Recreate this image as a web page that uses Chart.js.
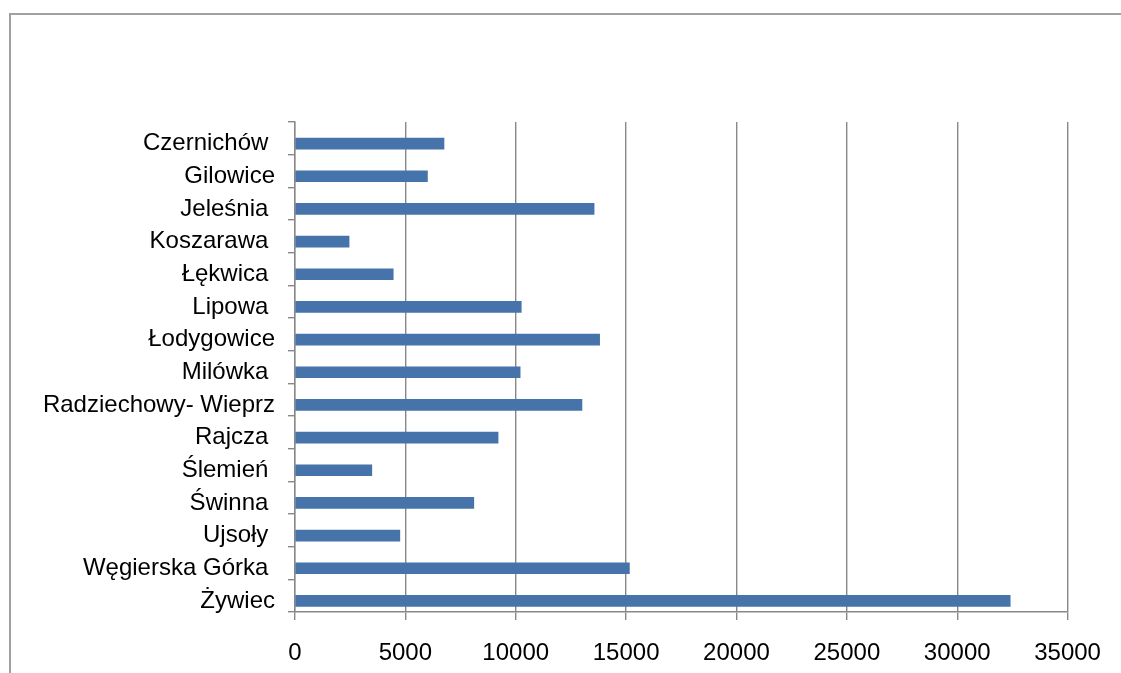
<!DOCTYPE html>
<html>
<head>
<meta charset="utf-8">
<script src="https://cdn.jsdelivr.net/npm/chart.js@4/dist/chart.umd.min.js"></script>
<style>
  html, body { margin: 0; padding: 0; background: #fff; overflow: hidden; }
  #wrap { position: relative; width: 1121px; height: 673px; overflow: hidden; }
  #frame { position: absolute; left: 9px; top: 13px; width: 2000px; height: 2000px;
           border-top: 2px solid #a0a0a0; border-left: 2px solid #a0a0a0; }
  canvas { position: absolute; left: 0; top: 0; }
</style>
</head>
<body>
<div id="wrap">
  <div id="frame"></div>
  <canvas id="c" width="1121" height="673"></canvas>
</div>
<script>
const categories = ["Czernichów ", "Gilowice", "Jeleśnia ", "Koszarawa ", "Łękwica ", "Lipowa ",
  "Łodygowice", "Milówka ", "Radziechowy- Wieprz", "Rajcza ", "Ślemień ", "Świnna ",
  "Ujsoły ", "Węgierska Górka ", "Żywiec"];
const values = [6750, 6000, 13550, 2450, 4450, 10250, 13800, 10200, 13000, 9200, 3480, 8100, 4750, 15150, 32400];
const xTicks = [0, 5000, 10000, 15000, 20000, 25000, 30000, 35000];

const yMin = -0.66, yMax = categories.length - 0.66;
const gray = '#888888';

Chart.defaults.font.family = '"Liberation Sans", Arial, sans-serif';
Chart.defaults.font.size = 24;
Chart.defaults.color = '#000';

new Chart(document.getElementById('c'), {
  type: 'bar',
  data: {
    datasets: [{
      data: values.map((v, i) => ({ x: v, y: i })),
      backgroundColor: '#4674aa',
      borderWidth: 0,
      barThickness: 11
    }]
  },
  options: {
    indexAxis: 'y',
    responsive: false,
    animation: false,
    layout: { padding: { top: 122, right: 53.4, bottom: 0, left: 0 } },
    plugins: { legend: { display: false }, tooltip: { enabled: false } },
    scales: {
      x: {
        type: 'linear',
        min: xTicks[0], max: xTicks[xTicks.length - 1],
        afterBuildTicks: s => { s.ticks = xTicks.map(v => ({ value: v })); },
        ticks: { padding: 19, maxRotation: 0, callback: v => String(v) },
        grid: { color: gray, lineWidth: 1.4, tickLength: 8 },
        border: { display: true, color: gray, width: 1.4 },
        afterFit: s => { s.height = 61; }
      },
      y: {
        type: 'linear',
        reverse: true,
        offset: false,
        bounds: 'data',
        min: yMin, max: yMax,
        afterBuildTicks: s => {
          const t = [];
          for (let k = 0; k <= categories.length; k++) t.push({ value: yMin + k });
          for (let k = 0; k < categories.length; k++) t.push({ value: k });
          t.sort((a, b) => a.value - b.value);
          s.ticks = t;
        },
        ticks: {
          autoSkip: false, padding: 13,
          callback: v => Number.isInteger(v) ? categories[v] : ''
        },
        grid: {
          offset: false,
          drawOnChartArea: false, tickLength: 7, color: gray, lineWidth: 1.4,
          tickColor: ctx => (ctx.tick && Number.isInteger(ctx.tick.value)) ? 'rgba(0,0,0,0)' : gray
        },
        border: { display: true, color: gray, width: 1.4 },
        afterFit: s => { s.width = 295; }
      }
    }
  }
});
</script>
</body>
</html>
